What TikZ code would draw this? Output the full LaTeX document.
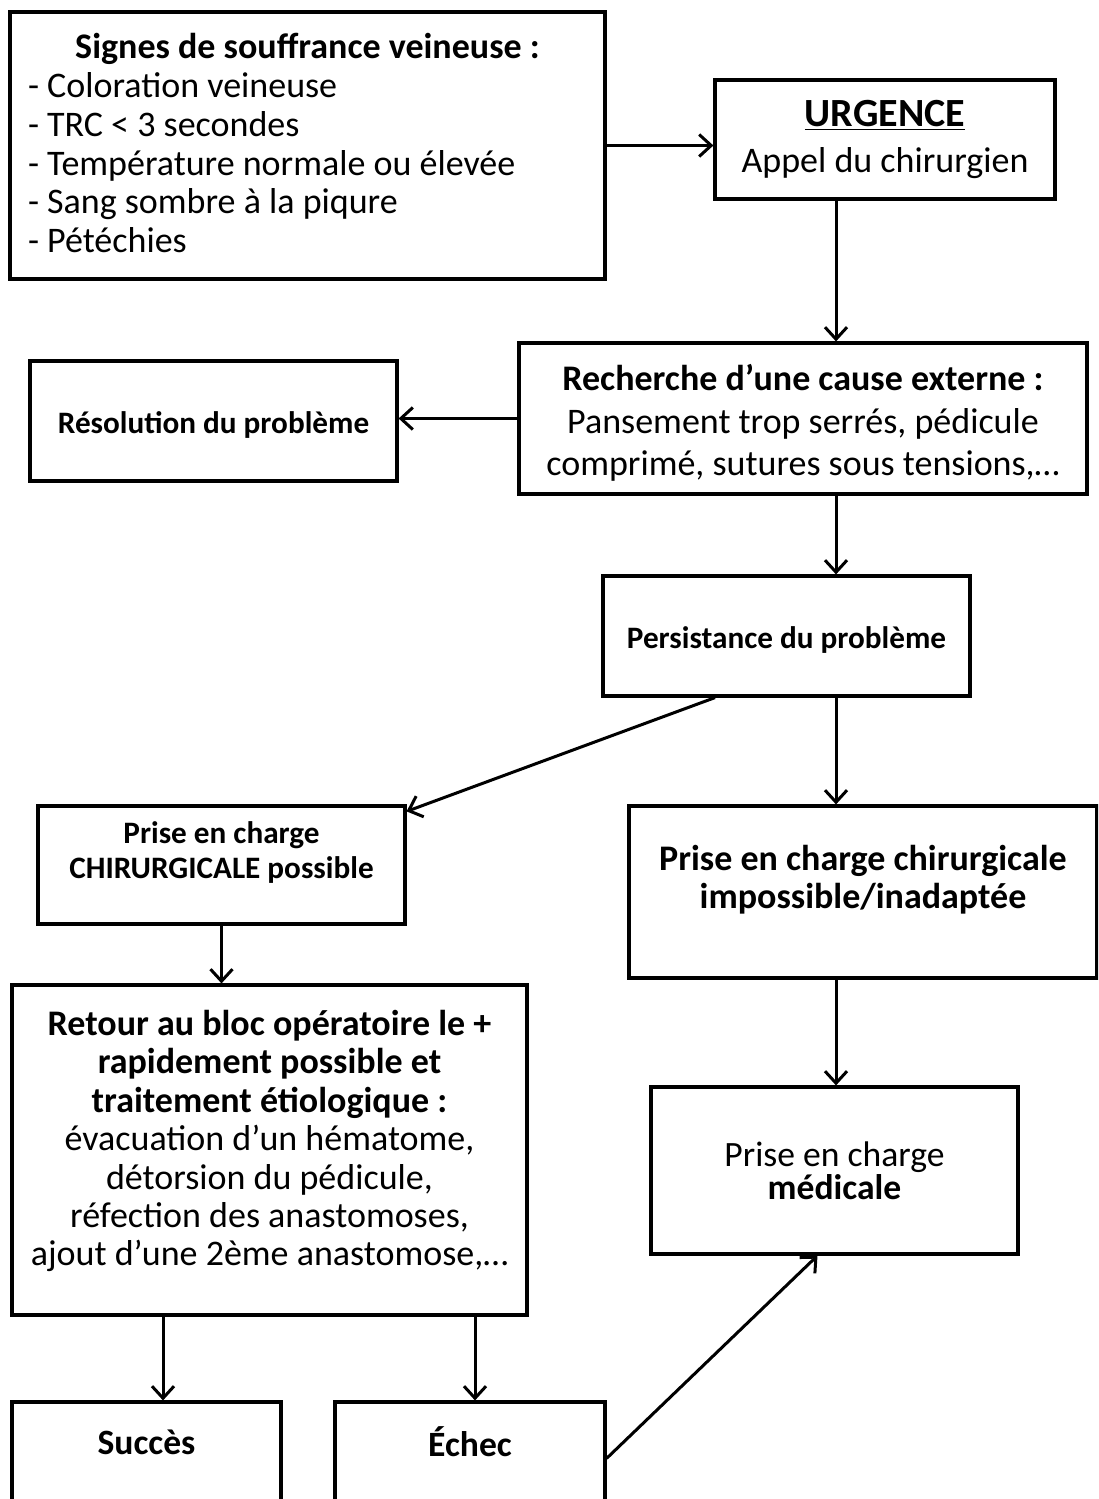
\documentclass[tikz,border=0pt]{standalone}
\usepackage{fontspec}
\setmainfont{Carlito}
\usetikzlibrary{arrows.meta,calc}

% one unit = one drawing pixel
\newcommand\pxu{0.5pt}
\newcommand\fs[2]{\fontsize{#1pt}{#2pt}\selectfont}

\tikzset{
  box/.style n args={4}{
    draw, line width=1.6pt, inner sep=0pt,
    at={({(#1+#3)/2},{(#2+#4)/2})},
    minimum width={(#3-#1)*\pxu}, minimum height={(#4-#2)*\pxu}
  },
  cbox/.style n args={4}{box={#1}{#2}{#3}{#4}, align=center},
  arr/.style={line width=1.5pt, -{Straight Barb[length=6pt,width=11pt]}}
}

\begin{document}
\begin{tikzpicture}[x=0.5pt, y=-0.5pt]
\useasboundingbox (0,0) rectangle (1098,1499);
\begin{scope}
\clip (0,0) rectangle (1098,1499);

\node[box={10}{12}{605}{279}, text width={559*\pxu}, align=flush left,
      font=\fs{18}{19.4}] (signs)
  {\hbox to\hsize{\hss\textbf{Signes de souffrance veineuse :}\hss}\\
   - Coloration veineuse\\
   - TRC < 3 secondes\\
   - Température normale ou élevée\\
   - Sang sombre à la piqure\\
   - Pétéchies\rule[-2.5pt]{0pt}{0pt}};

\node[cbox={715}{80}{1055}{199}, font=\fs{18}{23}] (urg)
  {{\fontsize{20}{23}\selectfont\textbf{\underline{URGENCE}}}\\ Appel du chirurgien};

\node[cbox={519}{343}{1087}{494}, font=\fs{18}{21.2}] (rech)
  {\rule{0pt}{17.5pt}\textbf{Recherche d’une cause externe :}\\
   Pansement trop serrés, pédicule\\ comprimé, sutures sous tensions,…};

\node[cbox={30}{361}{397}{481}, font=\fs{15.6}{18}\bfseries] (res)
  {\rule{0pt}{15pt}Résolution du problème};

\node[cbox={603}{576}{970}{696}, font=\fs{15.6}{18}\bfseries] (pers)
  {\rule{0pt}{15pt}Persistance du problème};

\node[cbox={38}{806}{405}{924}, font=\fs{15.6}{17.5}\bfseries] (chir)
  {Prise en charge\\ CHIRURGICALE possible\rule[-15pt]{0pt}{0pt}};

\node[cbox={629}{806}{1097}{978}, font=\fs{18}{19}\bfseries] (imp)
  {Prise en charge chirurgicale\\
   impossible/inadaptée\rule[-15pt]{0pt}{0pt}};

\node[cbox={12}{985}{527}{1315}, font=\fs{18}{19.2}] (ret)
  {\textbf{Retour au bloc opératoire le +}\\
   \textbf{rapidement possible et}\\
   \textbf{traitement étiologique :}\\
   évacuation d’un hématome,\\
   détorsion du pédicule,\\
   réfection des anastomoses,\\
   ajout d’une 2ème anastomose,…\rule[-12pt]{0pt}{0pt}};

\node[cbox={651}{1087}{1018}{1254}, font=\fs{17.8}{14.5}] (med)
  {Prise en charge\\ \textbf{médicale}};

\node[cbox={12}{1402}{281}{1530}, font=\fs{17.8}{19}\bfseries] (succ)
  {Succès\rule[-24pt]{0pt}{0pt}};

\node[cbox={335}{1402}{605}{1530}, font=\fs{17.8}{19}\bfseries] (ech)
  {Échec\rule[-24pt]{0pt}{0pt}};

% x positions of the vertical connectors
\coordinate (vx) at (836,0);
\coordinate (vl) at (163,0);
\coordinate (vr) at (475,0);
\coordinate (px) at (715,0);

\draw[arr] (signs.east) -- (signs.east -| urg.west);
\draw[arr] (urg.south -| vx) -- (rech.north -| vx);
\draw[arr] (rech.west) -- (rech.west -| res.east);
\draw[arr] (rech.south -| vx) -- (pers.north -| vx);
\draw[arr] (pers.south -| px) -- ([yshift=-3.5pt]chir.north east);
\draw[arr] (pers.south -| vx) -- (imp.north -| vx);
\draw[arr] (chir.south) -- (chir.south |- ret.north);
\draw[arr] (imp.south -| vx) -- (med.north -| vx);
\draw[arr] (ret.south -| vl) -- (succ.north -| vl);
\draw[arr] (ret.south -| vr) -- (ech.north -| vr);
\draw[arr] ([yshift=-29pt]ech.north east) -- ([xshift=-8.5pt]med.south);
\end{scope}
\end{tikzpicture}
\end{document}
